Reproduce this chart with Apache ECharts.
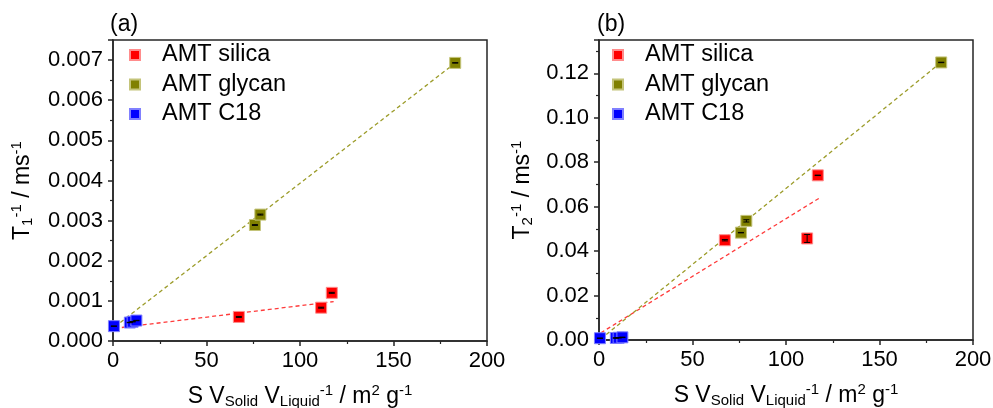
<!DOCTYPE html>
<html>
<head>
<meta charset="utf-8">
<script src="https://cdn.jsdelivr.net/npm/echarts@6/dist/echarts.min.js"></script>
<style>
  html, body { margin: 0; padding: 0; background: #fff; }
  #chart { width: 993px; height: 408px; }
</style>
</head>
<body>
<div id="chart"></div>
<script>
// Surface-to-volume ratio (x) versus relaxation rates T1^-1 and T2^-1
const silicaX = [67.3, 111.3, 117.0];
const silicaT1 = [0.00060, 0.00083, 0.00120];
const silicaT1Err = [0.000012, 0.000012, 0.000012];
const silicaT2 = [0.0449, 0.0457, 0.0741];
const silicaT2Err = [0.0003, 0.0018, 0.0001];

const glycanX = [75.9, 78.8, 183.0];
const glycanT1 = [0.00289, 0.00315, 0.00693];
const glycanT1Err = [0.000010, 0.000012, 0.000005];
const glycanT2 = [0.0483, 0.0536, 0.1249];
const glycanT2Err = [0.0001, 0.0005, 0.0001];

const c18X = [0.5, 9.0, 10.5, 12.5];
const c18T1 = [0.00037, 0.00046, 0.00048, 0.00051];
const c18T1Err = [0.000005, 0.000005, 0.000005, 0.000005];
const c18T2 = [0.0008, 0.0009, 0.0010, 0.0012];
const c18T2Err = [0.0001, 0.0001, 0.0001, 0.0001];

// Linear fits: [intercept, slope]
const silicaFitT1 = [0.00031, 0.0000057];
const glycanFitT1 = [0.00032, 0.0000361];
const silicaFitT2 = [0.0027, 0.000519];
const glycanFitT2 = [-0.0002, 0.000684];
const silicaFitRange = [1, 118];
const glycanFitRange = [1, 183];

const seriesNames = ['AMT silica', 'AMT glycan', 'AMT C18'];

const FONT = 'Liberation Sans, Arial, sans-serif';
const AXIS_COLOR = '#262626';
const RED = '#ff0000', OLIVE = '#808000', BLUE = '#0000ff';

function pts(xs, ys) { return xs.map((x, i) => [x, ys[i]]); }
function errPts(xs, ys, es) { return xs.map((x, i) => [x, ys[i], es[i]]); }
function fitLine(fit, range) { return range.map(x => [x, fit[0] + fit[1] * x]); }

function errRender(params, api) {
  const x = api.value(0), y = api.value(1), e = api.value(2);
  const lo = api.coord([x, y - e]);
  const hi = api.coord([x, y + e]);
  const w = 3;
  const st = { stroke: '#000', lineWidth: 1 };
  return {
    type: 'group',
    children: [
      { type: 'line', shape: { x1: lo[0], y1: lo[1], x2: hi[0], y2: hi[1] }, style: st },
      { type: 'line', shape: { x1: lo[0] - w, y1: lo[1], x2: lo[0] + w, y2: lo[1] }, style: st },
      { type: 'line', shape: { x1: hi[0] - w, y1: hi[1], x2: hi[0] + w, y2: hi[1] }, style: st }
    ]
  };
}

const richName = {
  sub: { fontSize: 15, fontFamily: FONT, color: '#000', padding: [10, 0, 0, 0] },
  sup: { fontSize: 15, fontFamily: FONT, color: '#000', padding: [0, 0, 12, 0] }
};

const xName = 'S V{sub|Solid} V{sub|Liquid}{sup|-1} / m{sup|2} g{sup|-1}';

function xAxis(idx) {
  return {
    gridIndex: idx, type: 'value', min: 0, max: 200, interval: 50,
    name: xName, nameLocation: 'middle', nameGap: 42,
    nameTextStyle: { fontSize: 23, fontFamily: FONT, color: '#000', rich: richName },
    axisLine: { onZero: false, lineStyle: { color: AXIS_COLOR, width: 1.5 } },
    axisTick: { show: true, inside: false, length: 5, lineStyle: { color: AXIS_COLOR, width: 1.5 } },
    minorTick: { show: true, splitNumber: 2, length: 3, lineStyle: { color: AXIS_COLOR, width: 1.2 } },
    axisLabel: { fontSize: 22, fontFamily: FONT, color: '#000', margin: 9 },
    splitLine: { show: false }
  };
}

function yAxis(idx, max, interval, digits, name, gap) {
  return {
    gridIndex: idx, type: 'value', min: 0, max: max, interval: interval,
    name: name, nameLocation: 'middle', nameGap: gap,
    nameTextStyle: { fontSize: 23, fontFamily: FONT, color: '#000', rich: richName },
    axisLine: { onZero: false, lineStyle: { color: AXIS_COLOR, width: 1.5 } },
    axisTick: { show: true, inside: false, length: 5, lineStyle: { color: AXIS_COLOR, width: 1.5 } },
    minorTick: { show: true, splitNumber: 2, length: 3, lineStyle: { color: AXIS_COLOR, width: 1.2 } },
    axisLabel: {
      fontSize: 22, fontFamily: FONT, color: '#000', margin: 10,
      formatter: v => {
        const k = v / interval;
        return Math.abs(k - Math.round(k)) < 1e-6 ? v.toFixed(digits) : '';
      }
    },
    splitLine: { show: false }
  };
}

function scatter(name, data, color, border, xi) {
  return {
    name: name, type: 'scatter', xAxisIndex: xi, yAxisIndex: xi,
    data: data, symbol: 'rect', symbolSize: 11,
    itemStyle: { color: color, borderColor: border, borderWidth: 1, opacity: 1 },
    z: 3
  };
}
function errors(data, xi) {
  return {
    name: 'err', type: 'custom', xAxisIndex: xi, yAxisIndex: xi,
    data: data, renderItem: errRender, encode: { x: 0, y: 1 }, z: 4, silent: true
  };
}
function fit(data, color, xi) {
  return {
    name: 'fit', type: 'line', xAxisIndex: xi, yAxisIndex: xi,
    data: data, symbol: 'none', silent: true, z: 2,
    lineStyle: { color: color, width: 1.3, type: [4, 3] }
  };
}

function legend(left) {
  return {
    data: seriesNames.map(n => ({ name: n, icon: 'rect' })),
    orient: 'vertical', left: left, top: 38,
    itemWidth: 10, itemHeight: 10, itemGap: 5.5,
    textStyle: { fontSize: 23.5, fontFamily: FONT, color: '#000', lineHeight: 22, padding: [0, 0, 0, 17] },
    selectedMode: false
  };
}

const gridBase = {
  top: 40, show: true, borderColor: AXIS_COLOR, borderWidth: 1.5,
  backgroundColor: 'transparent', containLabel: false, outerBoundsMode: 'none'
};

const chart = echarts.init(document.getElementById('chart'), null, { renderer: 'canvas' });
chart.setOption({
  animation: false,
  backgroundColor: '#fff',
  grid: [
    Object.assign({ left: 113, right: 506, bottom: 67 }, gridBase),
    Object.assign({ left: 599, right: 20, bottom: 68 }, gridBase)
  ],
  legend: [legend(124), legend(607)],
  graphic: [
    { type: 'text', left: 110, top: 13, style: { text: '(a)', fontSize: 23, fontFamily: FONT, fill: '#000' } },
    { type: 'text', left: 597, top: 13, style: { text: '(b)', fontSize: 23, fontFamily: FONT, fill: '#000' } }
  ],
  xAxis: [xAxis(0), xAxis(1)],
  yAxis: [
    yAxis(0, 0.0075, 0.001, 3, 'T{sub|1}{sup|-1} / ms{sup|-1}', 77),
    yAxis(1, 0.135, 0.02, 2, 'T{sub|2}{sup|-1} / ms{sup|-1}', 63)
  ],
  series: [
    fit(fitLine(silicaFitT1, silicaFitRange), '#ff3b3b', 0),
    fit(fitLine(glycanFitT1, glycanFitRange), '#9c9c2a', 0),
    scatter(seriesNames[0], pts(silicaX, silicaT1), RED, '#ff8c8c', 0),
    scatter(seriesNames[1], pts(glycanX, glycanT1), OLIVE, '#c4c47a', 0),
    scatter(seriesNames[2], pts(c18X, c18T1), BLUE, '#8080ff', 0),
    errors(errPts(silicaX, silicaT1, silicaT1Err), 0),
    errors(errPts(glycanX, glycanT1, glycanT1Err), 0),
    errors(errPts(c18X, c18T1, c18T1Err), 0),

    fit(fitLine(silicaFitT2, silicaFitRange), '#ff3b3b', 1),
    fit(fitLine(glycanFitT2, glycanFitRange), '#9c9c2a', 1),
    scatter(seriesNames[0], pts(silicaX, silicaT2), RED, '#ff8c8c', 1),
    scatter(seriesNames[1], pts(glycanX, glycanT2), OLIVE, '#c4c47a', 1),
    scatter(seriesNames[2], pts(c18X, c18T2), BLUE, '#8080ff', 1),
    errors(errPts(silicaX, silicaT2, silicaT2Err), 1),
    errors(errPts(glycanX, glycanT2, glycanT2Err), 1),
    errors(errPts(c18X, c18T2, c18T2Err), 1)
  ]
});
</script>
</body>
</html>
